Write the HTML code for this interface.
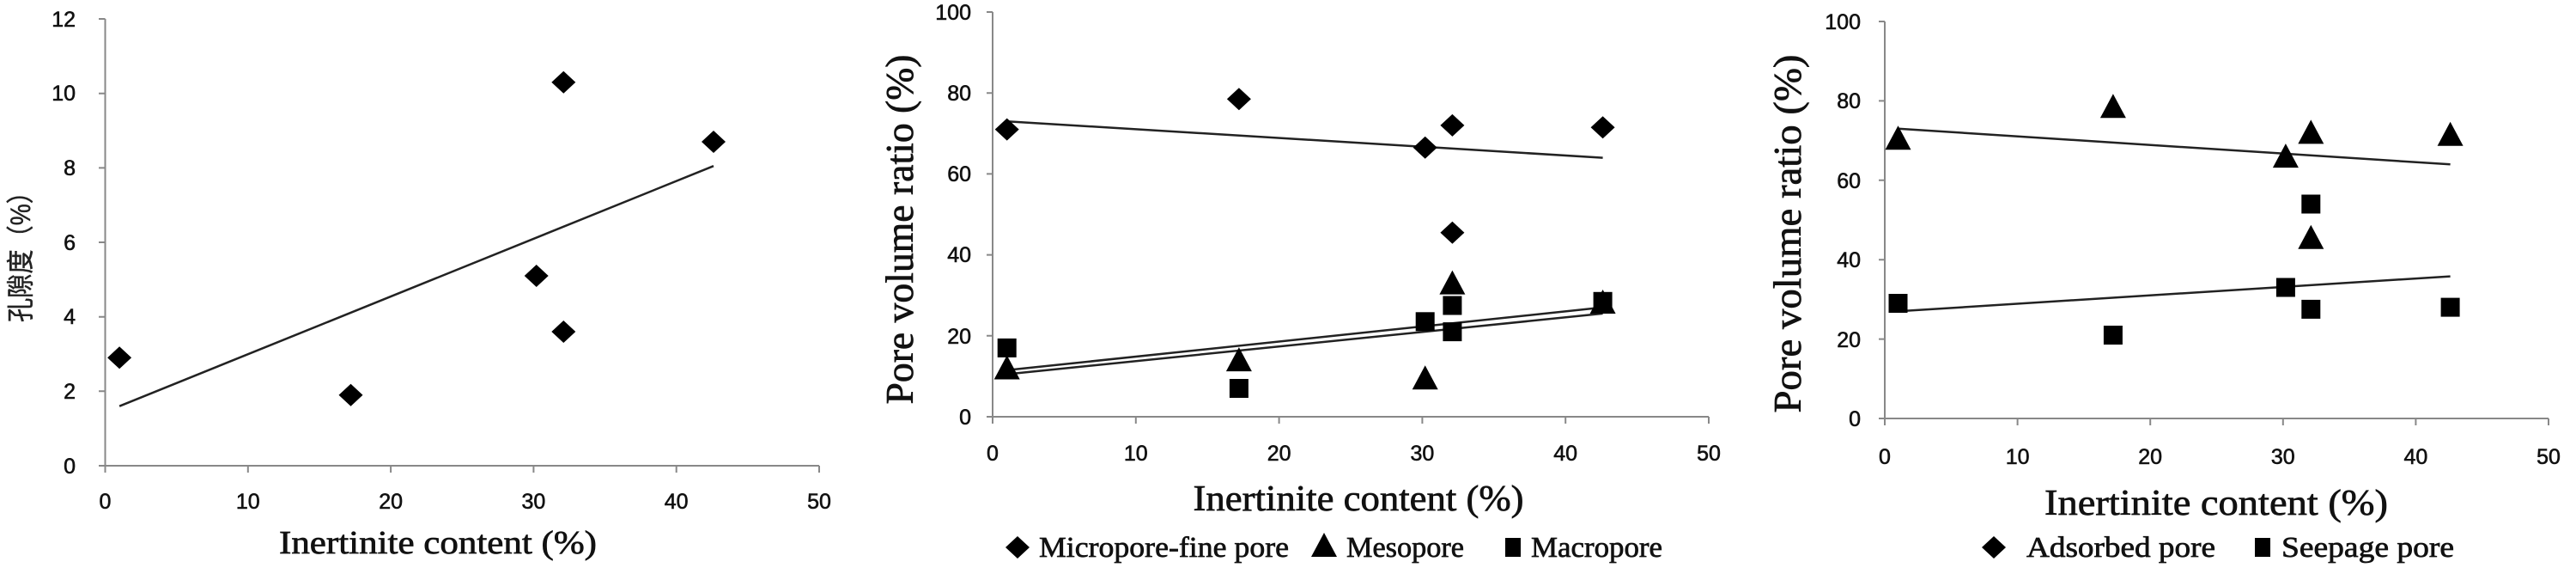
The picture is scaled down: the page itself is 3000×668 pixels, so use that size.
<!DOCTYPE html>
<html><head><meta charset="utf-8"><style>
html,body{margin:0;padding:0;background:#fff}
svg{display:block}
.t{font-family:"Liberation Sans",sans-serif;font-size:25px;fill:#111;stroke:#111;stroke-width:0.6}
.s{font-family:"Liberation Serif",serif;fill:#111;stroke:#111;stroke-width:0.7}
</style></head><body>
<svg width="3000" height="668" viewBox="0 0 3000 668" xmlns="http://www.w3.org/2000/svg">
<defs>
<path id="d" d="M0,-13 L14,0 L0,13 L-14,0Z" fill="#000"/>
<path id="tr" d="M0,-15 L15,13 L-15,13Z" fill="#000"/>
<rect id="q" x="-11" y="-11" width="22" height="22" fill="#000"/>
</defs>
<g stroke="#888" stroke-width="2" fill="none">
<path d="M122.5,22V542H954"/>
<path d="M115,22H122.5M115,108.7H122.5M115,195.4H122.5M115,282H122.5M115,368.7H122.5M115,455.3H122.5M115,542H122.5"/>
<path d="M122.5,542v8M288.8,542v8M455.1,542v8M621.4,542v8M787.7,542v8M954,542v8"/>
<path d="M1156,14V485H1990"/>
<path d="M1149,14H1156M1149,108.2H1156M1149,202.4H1156M1149,296.6H1156M1149,390.8H1156M1149,485H1156"/>
<path d="M1156,485v8M1322.8,485v8M1489.6,485v8M1656.4,485v8M1823.2,485v8M1990,485v8"/>
<path d="M2195,25V487H2968"/>
<path d="M2188,25H2195M2188,117.4H2195M2188,209.8H2195M2188,302.2H2195M2188,394.6H2195M2188,487H2195"/>
<path d="M2195,487v8M2349.6,487v8M2504.2,487v8M2658.8,487v8M2813.4,487v8M2968,487v8"/>
</g>
<g stroke="#222" stroke-width="2.5" fill="none">
<path d="M139.1,472.7L831,193.2"/>
<path d="M1172.7,141.2L1866.6,183.6"/>
<path d="M1172.7,430.8L1866.6,357.8"/>
<path d="M1172.7,435.5L1866.6,364.9"/>
<path d="M2210.5,149.7L2853.6,191.3"/>
<path d="M2210.5,362.3L2853.6,321.6"/>
</g>
<use href="#d" x="139.1" y="416.3"/><use href="#d" x="408.5" y="459.7"/><use href="#d" x="624.7" y="321"/>
<use href="#d" x="656.3" y="95.7"/><use href="#d" x="656.3" y="386"/><use href="#d" x="831" y="165"/>
<use href="#d" x="1172.7" y="150.6"/><use href="#d" x="1442.9" y="115.3"/><use href="#d" x="1659.7" y="171.8"/>
<use href="#d" x="1691.4" y="145.9"/><use href="#d" x="1691.4" y="270.7"/><use href="#d" x="1866.6" y="148.2"/>
<use href="#tr" x="1172.7" y="428.5"/><use href="#tr" x="1442.9" y="419.1"/><use href="#tr" x="1659.7" y="440.3"/>
<use href="#tr" x="1691.4" y="329.6"/><use href="#tr" x="1866.6" y="352"/>
<use href="#q" x="1172.7" y="404.9"/><use href="#q" x="1442.9" y="452"/><use href="#q" x="1659.7" y="374.3"/>
<use href="#q" x="1691.4" y="355.5"/><use href="#q" x="1691.4" y="386.1"/><use href="#q" x="1866.6" y="350.8"/>
<use href="#tr" x="2210.5" y="161.3"/><use href="#tr" x="2460.9" y="124.3"/><use href="#tr" x="2661.9" y="182.1"/>
<use href="#tr" x="2691.3" y="154.4"/><use href="#tr" x="2691.3" y="276.8"/><use href="#tr" x="2853.6" y="156.7"/>
<use href="#q" x="2210.5" y="353"/><use href="#q" x="2460.9" y="390"/><use href="#q" x="2661.9" y="334.5"/>
<use href="#q" x="2691.3" y="237.5"/><use href="#q" x="2691.3" y="359.9"/><use href="#q" x="2853.6" y="357.6"/>

<g class="t" text-anchor="end">
<text x="88" y="31">12</text><text x="88" y="117">10</text><text x="88" y="204">8</text><text x="88" y="291">6</text>
<text x="88" y="377">4</text><text x="88" y="464">2</text><text x="88" y="551">0</text>
</g>
<g class="t" text-anchor="middle">
<text x="122.5" y="592">0</text><text x="288.8" y="592">10</text><text x="455.1" y="592">20</text>
<text x="621.4" y="592">30</text><text x="787.7" y="592">40</text><text x="954" y="592">50</text>
</g>
<text class="s" x="510" y="644" font-size="38" text-anchor="middle" textLength="370" lengthAdjust="spacingAndGlyphs">Inertinite content (%)</text>
<text x="0" y="0" transform="translate(35,292) rotate(-90)" text-anchor="middle" font-size="32" fill="#222" stroke="#222" stroke-width="0.5" style="font-family:'Liberation Sans','Noto Sans CJK SC',sans-serif" textLength="166" lengthAdjust="spacingAndGlyphs">孔隙度（%）</text>

<g class="t" text-anchor="end">
<text x="1131" y="23">100</text><text x="1131" y="117">80</text><text x="1131" y="211">60</text>
<text x="1131" y="305">40</text><text x="1131" y="400">20</text><text x="1131" y="494">0</text>
</g>
<g class="t" text-anchor="middle">
<text x="1156" y="536">0</text><text x="1322.8" y="536">10</text><text x="1489.6" y="536">20</text>
<text x="1656.4" y="536">30</text><text x="1823.2" y="536">40</text><text x="1990" y="536">50</text>
</g>
<text class="s" x="1582" y="594" font-size="42" text-anchor="middle" textLength="385" lengthAdjust="spacingAndGlyphs">Inertinite content (%)</text>
<text class="s" transform="translate(1063,267) rotate(-90)" font-size="46" text-anchor="middle" textLength="407" lengthAdjust="spacingAndGlyphs">Pore volume ratio (%)</text>
<use href="#d" x="1185" y="637"/>
<text class="s" x="1210" y="648" font-size="34" textLength="291" lengthAdjust="spacingAndGlyphs">Micropore-fine pore</text>
<use href="#tr" x="1542" y="635"/>
<text class="s" x="1568" y="648" font-size="34" textLength="137" lengthAdjust="spacingAndGlyphs">Mesopore</text>
<rect x="1753" y="626" width="18" height="22" fill="#000"/>
<text class="s" x="1783" y="648" font-size="34" textLength="153" lengthAdjust="spacingAndGlyphs">Macropore</text>

<g class="t" text-anchor="end">
<text x="2167" y="34">100</text><text x="2167" y="126">80</text><text x="2167" y="219">60</text>
<text x="2167" y="311">40</text><text x="2167" y="404">20</text><text x="2167" y="496">0</text>
</g>
<g class="t" text-anchor="middle">
<text x="2195" y="540">0</text><text x="2349.6" y="540">10</text><text x="2504.2" y="540">20</text>
<text x="2658.8" y="540">30</text><text x="2813.4" y="540">40</text><text x="2968" y="540">50</text>
</g>
<text class="s" x="2581" y="599" font-size="42" text-anchor="middle" textLength="400" lengthAdjust="spacingAndGlyphs">Inertinite content (%)</text>
<text class="s" transform="translate(2097,272) rotate(-90)" font-size="46" text-anchor="middle" textLength="417" lengthAdjust="spacingAndGlyphs">Pore volume ratio (%)</text>
<use href="#d" x="2322" y="637"/>
<text class="s" x="2360" y="648" font-size="34" textLength="220" lengthAdjust="spacingAndGlyphs">Adsorbed pore</text>
<rect x="2626" y="626" width="18" height="22" fill="#000"/>
<text class="s" x="2657" y="648" font-size="34" textLength="201" lengthAdjust="spacingAndGlyphs">Seepage pore</text>
</svg>
</body></html>
